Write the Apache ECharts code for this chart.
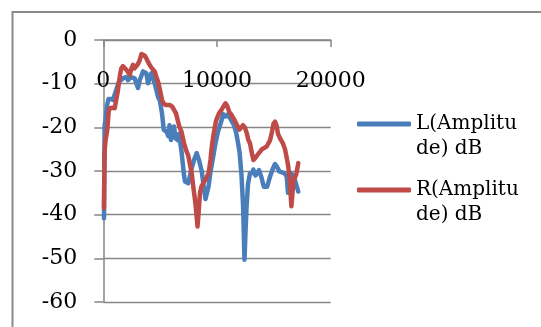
<!DOCTYPE html>
<html>
<head>
<meta charset="utf-8">
<script src="https://cdn.jsdelivr.net/npm/echarts@6/dist/echarts.min.js"></script>
<style>
html,body{margin:0;padding:0;background:#fff;}
#chart{width:541px;height:327px;}
</style>
</head>
<body>
<div id="chart"></div>
<script>
var xTicks = [0, 10000, 20000];
var yTicks = [0, -10, -20, -30, -40, -50, -60];
var seriesNames = ['L(Amplitude) dB', 'R(Amplitude) dB'];

var lFreq = [60,115,195,325,457,677,853,1143,1381,1733,1996,2172,2436,2762,2920,3052,3201,3492,3782,3931,4222,4521,4811,4987,5163,5321,5558,5717,5822,5954,6218,6350,6535,6658,6878,7098,7186,7476,7757,7977,8215,8417,8654,8856,8988,9120,9252,9411,9648,9868,10088,10325,10554,10783,10967,11231,11495,11689,11847,11996,12155,12295,12418,12506,12603,12726,12902,13078,13201,13386,13518,13694,13913,14116,14415,14661,14872,15101,15277,15479,15717,15937,16130,16244,16376,16544,16843,17150];
var lDb = [-40.8,-19.5,-18.5,-15,-13.5,-13.5,-13.7,-11.4,-9.5,-8.8,-8.5,-9.2,-8.5,-8.8,-10,-11,-9.2,-7.2,-7.6,-9.9,-7.6,-9.9,-13,-14,-16.8,-20.6,-21,-22,-19.5,-22.9,-19.8,-22.5,-22.9,-21.5,-25.5,-31,-32.4,-32.8,-29.5,-27.5,-25.9,-27.5,-30,-34,-36.4,-35,-33.6,-30.5,-27,-23.6,-21,-19,-17,-17.5,-17,-18.3,-19.5,-21.3,-23.5,-25.9,-31,-38,-50.3,-44,-38.1,-33,-30.5,-30.5,-29.7,-31,-30.5,-29.8,-31.5,-33.6,-33.6,-31.3,-29.7,-28.4,-29,-30.1,-30.3,-30.5,-31.3,-35,-33,-30.5,-32,-34.7];

var rFreq = [60,115,195,352,466,563,765,1003,1117,1293,1469,1583,1733,1882,2084,2322,2480,2612,2744,2902,3052,3201,3360,3492,3650,3782,3931,4081,4283,4521,4679,4811,4987,5163,5295,5514,5866,6077,6218,6394,6684,6878,7098,7317,7476,7625,7775,7933,8065,8197,8285,8373,8505,8637,8795,8944,9076,9261,9428,9560,9718,9912,10176,10396,10616,10748,10880,11082,11231,11539,11759,11979,12146,12287,12445,12638,12770,12902,13034,13201,13430,13650,13782,13958,14133,14371,14529,14661,14837,14969,15101,15233,15365,15541,15787,15981,16113,16271,16421,16544,16640,16728,16860,16992,17150];
var rDb = [-38.5,-25.5,-23,-20.6,-16.5,-15.6,-15.5,-15.6,-14,-11.4,-8,-6.5,-6,-5.7,-7,-8,-6.5,-5.7,-6.5,-6.9,-5.5,-4.6,-3.2,-3,-3.6,-4.2,-5,-5.7,-6.5,-7.2,-8.5,-9.5,-11.5,-13.7,-14.5,-14.9,-14.9,-15.3,-15.5,-16.8,-19.8,-21,-23.6,-25.5,-26.5,-28.5,-30.5,-34,-36.6,-40,-42.7,-40,-35,-33.5,-32.8,-33,-31.5,-30.5,-27.5,-24,-21.3,-18.5,-16.8,-16,-15,-14.5,-15,-16.5,-17,-18.3,-19.5,-20.5,-20.2,-19.5,-20,-21.5,-23,-23.6,-25.5,-27.5,-26.8,-26,-25.6,-25,-24.6,-24.4,-24,-23,-21,-19.2,-18.7,-19.5,-21.5,-22.5,-23.6,-25,-26.7,-29,-33,-38.1,-35,-32,-31.5,-30.5,-28.2];

function zip(xs, ys) { return xs.map(function (x, i) { return [x, ys[i]]; }); }

var FONT = 'DejaVu Serif';
var GRAY = '#868686';
var COLORS = ['#4A7EBB', '#BE4B48'];

function legendFor(i, top) {
  return {
    orient: 'vertical', left: 357, top: top, padding: 0,
    itemWidth: 54, itemHeight: 5, itemGap: 0,
    icon: 'roundRect',
    formatter: function (n) { return '\n' + n.replace('Amplitu', 'Amplitu\n'); },
    textStyle: {color: '#000', fontFamily: FONT, fontSize: 20, lineHeight: 25},
    data: [seriesNames[i]]
  };
}

var chart = echarts.init(document.getElementById('chart'), null, {renderer: 'canvas'});
chart.setOption({
  animation: false,
  backgroundColor: '#ffffff',
  color: COLORS,
  graphic: [{
    type: 'rect', left: 10, top: 9.5, silent: true,
    shape: {width: 700, height: 500},
    style: {fill: 'none', stroke: '#8a8a8a', lineWidth: 2}
  }],
  grid: {left: 103.3, right: 210.3, top: 40, bottom: 25, containLabel: false},
  xAxis: {
    type: 'value', min: xTicks[0], max: xTicks[xTicks.length - 1], interval: xTicks[1] - xTicks[0],
    position: 'top',
    axisLine: {show: true, onZero: false, lineStyle: {color: GRAY, width: 1.5}},
    axisTick: {show: true, inside: true, length: 7, lineStyle: {color: GRAY, width: 1.5}},
    axisLabel: {inside: true, color: '#000', fontFamily: FONT, fontSize: 22, margin: 30,
                formatter: function (v) { return String(v); }},
    splitLine: {show: false}
  },
  yAxis: {
    type: 'value', min: yTicks[yTicks.length - 1], max: yTicks[0], interval: 10,
    axisLine: {show: true, lineStyle: {color: GRAY, width: 1.5}},
    axisTick: {show: true, length: 9, lineStyle: {color: GRAY, width: 1.5}},
    axisLabel: {color: '#000', fontFamily: FONT, fontSize: 22, margin: 26,
                formatter: function (v) { return String(v); }},
    splitLine: {show: true, lineStyle: {color: GRAY, width: 1.3}}
  },
  legend: [legendFor(0, 86.5), legendFor(1, 152.5)],
  series: [
    {name: seriesNames[0], type: 'line', symbol: 'none', data: zip(lFreq, lDb),
     itemStyle: {color: COLORS[0]},
     lineStyle: {width: 4.5, color: COLORS[0], join: 'round', cap: 'round'}},
    {name: seriesNames[1], type: 'line', symbol: 'none', data: zip(rFreq, rDb),
     itemStyle: {color: COLORS[1]},
     lineStyle: {width: 4.5, color: COLORS[1], join: 'round', cap: 'round'}}
  ]
});
</script>
</body>
</html>
